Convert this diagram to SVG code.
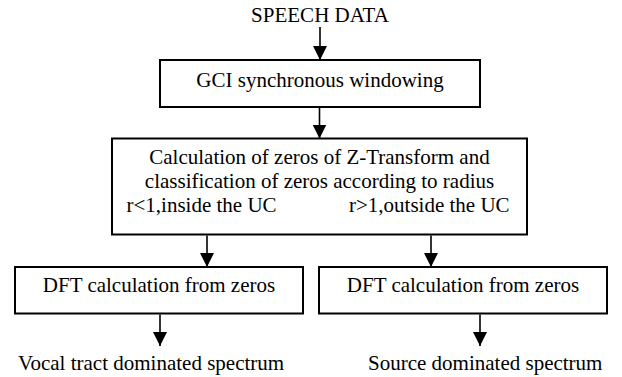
<svg xmlns="http://www.w3.org/2000/svg" width="622" height="377" viewBox="0 0 622 377">
<style>
text{font-family:'Liberation Serif','DejaVu Serif',serif;font-size:21px;fill:#000}
.box{fill:#fff;stroke:#000;stroke-width:2}
.c{text-anchor:middle}
.ln{stroke:#000;stroke-width:1.6;fill:none;marker-end:url(#ah)}
</style>
<defs>
<marker id="ah" markerUnits="userSpaceOnUse" markerWidth="14" markerHeight="14" viewBox="0 0 14 14" refX="14" refY="7" orient="auto">
<path d="M0,0 L14,7 L0,14 Z" fill="#000"/>
</marker>
</defs>
<rect width="622" height="377" fill="#fff"/>
<g id="input"><text class="c" x="320" y="22">SPEECH DATA</text></g>
<g id="windowing"><rect class="box" x="160" y="60" width="320" height="47"/><text class="c" x="320" y="87">GCI synchronous windowing</text></g>
<g id="zeros"><rect class="box" x="112" y="138.5" width="415" height="96"/>
<text class="c" x="319.5" y="164">Calculation of zeros of Z-Transform and</text>
<text class="c" x="319.5" y="188">classification of zeros according to radius</text>
<text x="126.5" y="211.5">r&lt;1,inside the UC</text>
<text x="349" y="211.5">r&gt;1,outside the UC</text></g>
<g id="dft_left"><rect class="box" x="15" y="267" width="288" height="46.5"/><text class="c" x="159" y="292">DFT calculation from zeros</text></g>
<g id="dft_right"><rect class="box" x="319" y="267" width="288" height="46.5"/><text class="c" x="463" y="292">DFT calculation from zeros</text></g>
<g id="out_left"><text x="18" y="370">Vocal tract dominated spectrum</text></g>
<g id="out_right"><text x="368" y="370">Source dominated spectrum</text></g>
<g id="connectors">
<line class="ln" x1="320" y1="27" x2="320" y2="60"/>
<line class="ln" x1="319.5" y1="108" x2="319.5" y2="138.5"/>
<line class="ln" x1="207" y1="235.5" x2="207" y2="267"/>
<line class="ln" x1="431" y1="235.5" x2="431" y2="267"/>
<line class="ln" x1="160" y1="314.5" x2="160" y2="346"/>
<line class="ln" x1="480" y1="314.5" x2="480" y2="346"/>
</g>
</svg>
